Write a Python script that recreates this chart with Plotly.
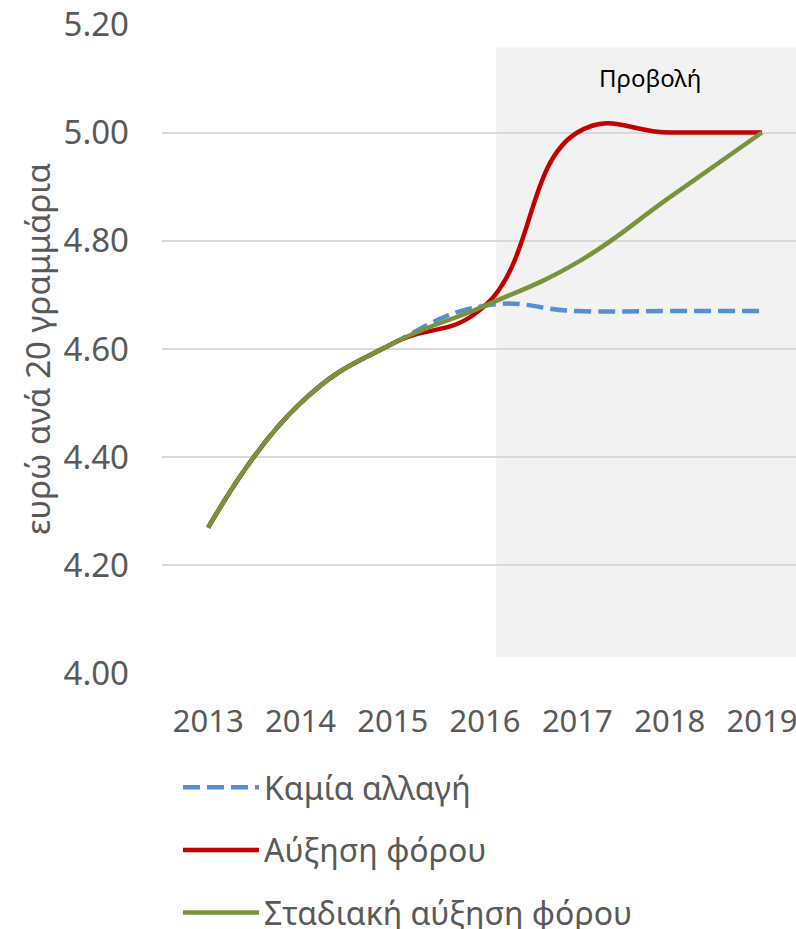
import plotly.graph_objects as go

# Years on the horizontal axis
years = [2013, 2014, 2015, 2016, 2017, 2018, 2019]
year_labels = ["2013", "2014", "2015", "2016", "2017", "2018", "2019"]

# Price per 20 grams (euro) under each scenario
no_change = [4.27, 4.50, 4.61, 4.68, 4.67, 4.67, 4.67]
tax_increase = [4.27, 4.50, 4.61, 4.68, 5.00, 5.00, 5.00]
gradual_increase = [4.27, 4.50, 4.61, 4.68, 4.76, 4.88, 5.00]

series_names = ["Καμία αλλαγή", "Αύξηση φόρου", "Σταδιακή αύξηση φόρου"]
y_title = "ευρώ ανά 20 γραμμάρια"

# Projection window (shaded) and y ticks
projection_start = 2016.12
projection_label = "Προβολή"
y_ticks = [4.00, 4.20, 4.40, 4.60, 4.80, 5.00, 5.20]

FONT = "Noto Sans"
GREY = "#595959"
L, W, H = 162, 796, 929
PLOT_W = W - L

fig = go.Figure()

styles = [
    dict(color="#558ED5", width=4.5, dash="17px,7px"),
    dict(color="#C00000", width=4.5),
    dict(color="#77933C", width=4.5),
]

for name, values, st, grp in zip(series_names,
                                 [no_change, tax_increase, gradual_increase],
                                 styles, ["a", "b", "c"]):
    fig.add_trace(go.Scatter(
        x=years, y=values, name=name, mode="lines",
        line=dict(shape="spline", smoothing=1.3, **st),
        legendgroup=grp,
        hoverinfo="x+y+name",
    ))

# Shaded projection period
fig.add_shape(
    type="rect", xref="x", yref="y",
    x0=projection_start, x1=2020, y0=4.031, y1=5.157,
    fillcolor="#F2F2F2", line=dict(width=0), layer="below",
)

fig.add_annotation(
    x=2017.79, y=5.101, xref="x", yref="y",
    text=projection_label, showarrow=False,
    font=dict(family=FONT, size=24, color="#000000"),
)

# Vertical axis title
fig.add_annotation(
    x=(37 - L) / PLOT_W, y=0.5, xref="paper", yref="paper",
    xanchor="center", yanchor="middle",
    text=y_title, textangle=-90, showarrow=False,
    font=dict(family=FONT, size=33, color=GREY),
)

fig.update_layout(
    width=W, height=H,
    margin=dict(l=L, r=0, t=24, b=255, autoexpand=False),
    paper_bgcolor="white", plot_bgcolor="white",
    font=dict(family=FONT, color=GREY),
    showlegend=True,
    legend=dict(
        orientation="v",
        x=178 / W, y=169 / H,
        xref="container", yref="container",
        xanchor="left", yanchor="top",
        font=dict(family=FONT, size=32, color=GREY),
        itemwidth=76,
        tracegroupgap=18,
        bgcolor="rgba(0,0,0,0)",
    ),
)

fig.update_xaxes(
    range=[2012.5, 2012.5 + PLOT_W / 92.3],
    tickvals=years, ticktext=year_labels,
    showgrid=False, zeroline=False, showline=False,
    ticks="", ticklabelstandoff=26, automargin=False,
    ticklabeloverflow="allow",
    tickfont=dict(family=FONT, size=31, color=GREY),
    fixedrange=True,
)

fig.update_yaxes(
    range=[3.9995, 5.2005],
    tickvals=y_ticks, tickformat=".2f",
    showgrid=True, gridcolor="#D9D9D9", gridwidth=1.5,
    zeroline=False, showline=False,
    ticks="", ticklabelstandoff=32, automargin=False,
    tickfont=dict(family=FONT, size=33, color=GREY),
    fixedrange=True,
)

fig.write_html("out.html")
